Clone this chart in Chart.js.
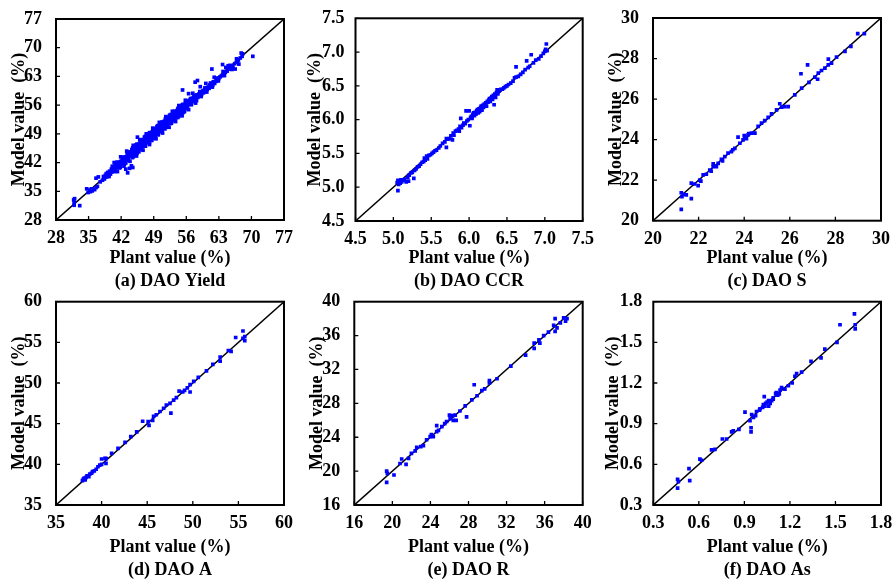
<!DOCTYPE html>
<html><head><meta charset="utf-8">
<script src="https://cdn.jsdelivr.net/npm/chart.js@4.4.1/dist/chart.umd.min.js"></script>
<style>
html,body{margin:0;padding:0;background:#fff;overflow:hidden;width:895px;height:579px;position:relative;}
canvas{position:absolute;}
</style></head><body>
<canvas id="pa"></canvas><canvas id="pb"></canvas><canvas id="pc"></canvas>
<canvas id="pd"></canvas><canvas id="pe"></canvas><canvas id="pf"></canvas>
<script>
// ---------- tick values & labels ----------
const yieldTicks = [28,35,42,49,56,63,70,77];
const yieldLabels = ['28','35','42','49','56','63','70','77'];
const ccrTicks = [4.5,5.0,5.5,6.0,6.5,7.0,7.5];
const ccrLabels = ['4.5','5.0','5.5','6.0','6.5','7.0','7.5'];
const sTicks = [20,22,24,26,28,30];
const sLabels = ['20','22','24','26','28','30'];
const aTicks = [35,40,45,50,55,60];
const aLabels = ['35','40','45','50','55','60'];
const rTicks = [16,20,24,28,32,36,40];
const rLabels = ['16','20','24','28','32','36','40'];
const asTicks = [0.3,0.6,0.9,1.2,1.5,1.8];
const asLabels = ['0.3','0.6','0.9','1.2','1.5','1.8'];

const subtitles = ['(a) DAO Yield','(b) DAO CCR','(c) DAO S','(d) DAO A','(e) DAO R','(f) DAO As'];
const xTitle = 'Plant value (%)';
const yTitle = 'Model value  (%)';

// ---------- data: [plant, model] ----------
const yieldPairs = [
[31.8,32.9],[31.9,32.3],[31.9,31.6],[32.0,33.2],[33.1,31.5],[34.6,35.6],[34.9,34.7],[35.2,35.3],[35.4,34.9],[35.6,35.6],
[35.8,35.1],[36.3,35.4],[36.6,35.9],[36.9,36.2],[36.6,38.2],[37.1,38.5],[37.5,37.3],[38.0,37.7],
[38.4,38.0],[38.6,38.9],[38.9,38.5],[39.1,39.6],[39.3,38.9],[39.5,39.9],[39.7,39.2],[39.9,40.4],[40.0,39.7],[40.2,40.9],
[40.4,40.1],[40.5,40.6],[40.7,41.3],[40.8,40.2],[41.0,40.8],[41.1,41.6],[41.3,41.0],[41.4,42.0],[41.6,41.3],[41.7,40.9],
[41.9,42.3],[42.0,41.6],[42.2,42.6],[42.3,41.9],[42.5,42.1],[42.6,43.0],[42.8,42.4],[42.9,43.4],[43.1,42.7],[43.2,43.1],
[43.4,43.8],[43.5,42.9],[43.7,43.5],[43.8,44.2],[44.0,43.6],[44.1,44.5],
[43.0,40.4],[43.4,39.5],[44.5,40.8],[44.2,41.2],[43.8,40.6],
[44.3,43.9],[44.4,44.8],[44.6,44.2],[44.7,45.3],[44.9,44.6],[45.0,45.5],[45.2,44.8],[45.3,45.9],[45.5,45.1],[45.5,48.2],
[45.6,46.2],[45.8,45.4],[45.9,46.6],[46.1,45.8],[46.2,46.9],[46.4,46.1],[46.5,47.3],[46.7,46.5],[46.8,47.6],[47.0,46.7],
[47.1,47.9],[47.3,47.2],[47.4,48.1],[47.6,47.4],[47.7,48.5],[47.9,47.6],[48.0,48.8],[48.2,48.0],[48.3,49.1],[48.5,48.3],
[48.6,49.4],[48.8,48.7],[48.9,49.7],[49.1,48.9],[49.2,50.0],[49.4,49.2],[49.5,50.3],[49.7,49.5],[49.8,50.6],[50.0,49.8],
[50.1,50.9],[50.3,50.1],[50.4,51.2],[50.6,50.4],[50.7,51.5],[50.9,50.7],[51.0,51.8],[51.2,51.0],[51.3,52.1],[51.5,51.3],
[51.6,52.4],[51.8,51.5],[51.9,52.7],[52.1,51.8],[52.2,53.0],[52.4,52.1],[52.5,53.3],[52.7,52.4],[52.8,53.6],[53.0,52.7],
[53.1,53.8],[53.3,53.0],[53.4,54.1],[53.6,53.2],[53.7,54.4],[53.9,53.5],[54.0,54.7],[54.2,53.8],[54.3,55.0],[54.5,54.1],
[54.6,55.3],[54.8,54.4],[54.9,55.6],[55.1,54.6],[55.2,55.9],[55.4,54.9],[55.5,56.1],[55.7,55.2],[55.8,56.4],
[44.5,45.6],[44.8,43.9],[45.4,46.5],[45.7,44.9],[46.3,47.5],[46.6,45.8],[47.2,48.4],[47.5,46.8],[48.1,49.3],[48.4,47.7],
[49.0,50.2],[49.3,48.6],[49.9,51.0],[50.2,49.5],[50.8,51.9],[51.1,50.4],[51.7,52.8],[52.0,51.2],[52.6,53.7],[52.9,52.0],
[53.5,54.5],[53.8,52.9],[54.4,55.4],[54.7,53.8],[55.3,56.2],[55.6,54.7],
[44.2,44.3],[45.1,45.3],[46.0,46.2],[46.9,47.1],[47.8,48.0],[48.7,48.9],[49.6,49.8],[50.5,50.7],[51.4,51.6],[52.3,52.5],
[53.2,53.4],[54.1,54.3],[55.0,55.2],[45.6,45.7],[46.4,46.6],[47.3,47.6],[48.2,48.5],[49.1,49.4],[50.0,50.3],[50.9,51.2],
[51.8,52.1],[52.7,53.0],[53.6,53.9],[54.5,54.8],
[38.2,38.6],[38.8,39.3],[39.4,38.6],[40.1,41.1],[40.6,39.8],[41.2,42.1],[41.8,40.8],[42.4,43.3],[42.7,41.6],[43.3,44.2],
[43.6,42.5],[44.3,45.2],[44.6,43.4],[45.2,46.3],[45.4,44.2],[46.1,47.2],[46.3,45.2],[47.0,48.2],[47.2,46.1],[47.9,49.0],
[48.1,47.0],[48.8,49.9],[49.0,47.9],[49.7,50.8],[49.9,48.8],[50.6,51.7],[50.8,49.7],[51.5,52.6],[51.7,50.6],[52.4,53.5],
[52.6,51.5],[53.3,54.4],[53.5,52.4],[54.2,55.2],[54.4,53.3],[55.1,56.0],[55.3,54.2],[56.0,56.9],[56.2,55.2],[56.9,57.6],
[57.1,56.1],[57.8,58.4],[58.2,57.1],[58.9,59.3],[59.2,58.1],[60.0,60.2],[60.4,59.2],[61.2,61.4],[61.6,60.4],[62.5,62.6],
[62.9,61.9],[63.9,64.2],[64.2,63.2],[65.4,65.7],[65.8,64.7],
[38.5,38.4],[39.0,38.9],[39.6,39.5],[40.3,40.4],[40.9,40.8],[41.5,41.6],[42.1,42.1],[42.7,42.8],[43.3,43.3],[43.9,44.0],
[44.5,44.4],[45.3,45.4],[45.9,46.0],[46.6,46.6],[47.4,47.3],[48.0,48.2],[48.6,48.6],[49.3,49.4],[50.1,50.0],[50.7,50.8],
[51.3,51.4],[52.0,52.0],[52.6,52.7],[53.4,53.3],[54.0,54.0],[54.6,54.6],[55.2,55.3],[55.9,55.8],[56.5,56.6],[57.1,57.2],
[57.7,57.6],[58.4,58.3],[59.0,58.8],[59.6,59.5],[60.4,60.2],[61.0,60.9],[61.8,61.7],
[40.5,42.0],[41.2,39.8],[41.9,43.4],[42.6,41.1],[43.2,44.8],[43.9,42.3],[44.6,46.2],[45.3,43.6],[46.0,47.6],[46.7,45.0],
[47.4,49.0],[48.1,46.4],[48.8,50.4],[49.5,47.8],[50.2,51.8],[50.9,49.2],[51.6,53.2],[52.3,50.6],[53.0,54.5],[53.7,52.0],
[54.4,55.9],[55.1,53.4],[55.8,57.2],[56.5,54.9],[57.4,58.9],[58.0,56.5],
[41.0,42.0],[41.6,40.7],[42.3,43.2],[43.0,41.9],[43.7,44.6],[44.4,43.2],[45.1,46.0],[45.8,44.6],[46.5,47.4],[47.2,46.0],
[47.9,48.8],[48.6,47.4],[49.3,50.2],[50.0,48.8],[50.7,51.6],[51.4,50.2],[52.1,53.0],[52.8,51.6],[53.5,54.4],[54.2,53.0],
[54.9,55.8],[55.6,54.4],
[56.0,55.6],[56.1,56.6],[56.3,55.9],[56.4,57.0],[56.6,56.2],[56.7,57.2],[56.9,56.5],[57.0,57.4],[57.2,56.8],[57.3,57.7],
[57.5,57.0],[57.6,58.0],[57.8,57.3],[58.0,58.2],[58.1,57.6],[58.3,58.5],[58.5,57.9],[58.7,58.7],[58.9,58.3],[59.1,59.0],
[59.3,58.6],[59.5,59.3],[59.7,59.0],[59.9,59.7],[60.1,59.3],[60.3,60.0],[60.5,59.8],[60.7,60.4],[60.9,60.1],[61.1,60.8],
[61.3,60.5],[61.5,61.2],[61.7,60.9],[61.9,61.5],[62.1,61.3],[62.4,61.8],[62.7,62.1],[63.0,62.5],[63.3,62.9],[63.6,63.2],
[64.0,63.5],[64.4,64.0],[64.8,64.3],[65.2,64.8],[65.6,65.2],[66.0,65.6],[66.4,66.1],[66.8,66.5],[67.2,67.0],[67.6,67.5],[68.0,67.9],
[55.2,59.7],[57.9,61.6],[58.4,62.0],[56.5,58.8],[61.5,64.8],[63.8,65.9],[70.3,67.9],[68.1,68.5],[67.0,66.5],[66.0,65.0],
[66.5,64.8],[67.3,66.0],[65.0,65.6],[59.0,60.5],[60.2,61.3],[62.0,62.8],[64.5,65.2],[66.8,67.3],[67.8,68.7]
];
const ccrPairs = [
[5.05,5.07],[5.06,5.10],[5.07,5.04],[5.08,5.09],[5.09,5.06],[5.10,5.11],[5.06,4.95],[5.11,5.08],[5.13,5.10],[5.15,5.12],
[5.17,5.08],[5.19,5.15],[5.21,5.18],[5.20,5.09],[5.23,5.21],[5.25,5.22],[5.27,5.13],[5.28,5.25],[5.30,5.27],[5.32,5.30],
[5.34,5.31],[5.36,5.34],[5.38,5.37],[5.40,5.38],[5.41,5.43],[5.42,5.40],[5.44,5.46],[5.45,5.42],[5.47,5.47],[5.49,5.48],
[5.51,5.50],[5.53,5.52],[5.55,5.54],[5.57,5.55],[5.60,5.58],[5.62,5.61],[5.65,5.65],[5.68,5.67],[5.70,5.72],[5.70,5.59],
[5.72,5.71],[5.74,5.72],[5.76,5.76],[5.78,5.70],[5.79,5.80],[5.80,5.77],[5.82,5.83],[5.84,5.84],[5.86,5.86],[5.87,5.83],
[5.88,5.90],[5.89,6.02],[5.90,5.88],[5.92,5.92],[5.93,5.95],[5.95,5.94],[5.96,6.13],[5.97,5.98],[5.99,6.00],[6.00,6.13],
[6.01,5.91],[6.02,6.03],[6.03,6.05],[6.04,6.02],[6.05,6.08],[6.06,6.10],[6.07,6.06],[6.08,6.11],[6.09,6.08],[6.10,6.13],
[6.11,6.15],[6.12,6.10],[6.13,6.16],[6.14,6.12],[6.15,6.18],[6.16,6.20],[6.17,6.14],[6.18,6.21],[6.19,6.18],[6.20,6.23],
[6.21,6.22],[6.22,6.25],[6.23,6.20],[6.24,6.27],[6.25,6.26],[6.26,6.29],[6.27,6.31],[6.28,6.27],[6.29,6.32],[6.30,6.34],
[6.31,6.30],[6.32,6.36],[6.33,6.22],[6.34,6.38],[6.35,6.33],[6.36,6.40],[6.37,6.44],[6.38,6.38],[6.39,6.42],[6.40,6.43],
[6.42,6.45],[6.44,6.45],[6.46,6.47],[6.48,6.49],[6.50,6.50],[6.52,6.52],[6.55,6.54],[6.58,6.57],[6.60,6.62],[6.62,6.63],
[6.62,6.78],[6.65,6.64],[6.68,6.67],[6.71,6.70],[6.74,6.74],[6.76,6.87],[6.78,6.77],[6.80,6.79],[6.82,6.96],[6.85,6.84],
[6.88,6.88],[6.92,6.90],[6.95,6.94],[6.98,6.98],[7.00,7.01],[7.01,7.04],[7.02,7.12],[7.03,7.02]
];
const sPairs = [
[21.24,20.56],[21.24,21.38],[21.27,21.19],[21.35,21.30],[21.46,21.27],[21.68,21.09],[21.68,21.85],[21.83,21.81],[21.98,21.73],
[22.05,22.00],[22.10,21.95],[22.20,22.26],[22.34,22.29],[22.49,22.50],[22.55,22.45],[22.64,22.67],[22.64,22.80],[22.78,22.67],
[22.86,22.83],[23.00,23.03],[23.05,22.95],[23.15,23.16],[23.29,23.33],[23.44,23.41],[23.50,23.50],[23.59,23.57],[23.73,24.12],
[23.81,23.82],[23.95,23.99],[24.00,24.20],[24.03,24.15],[24.10,24.05],[24.17,24.23],[24.20,24.30],[24.32,24.32],[24.47,24.32],
[24.61,24.65],[24.76,24.81],[24.90,24.94],[25.05,25.10],[25.20,25.27],[25.42,25.47],[25.56,25.77],[25.64,25.60],[25.78,25.63],
[25.93,25.63],[26.22,26.21],[26.49,27.25],[26.52,26.54],[26.78,27.69],[26.84,26.82],[27.10,27.08],[27.22,26.98],[27.25,27.28],
[27.39,27.41],[27.54,27.53],[27.69,27.97],[27.69,27.69],[27.83,27.77],[28.05,28.07],[28.42,28.35],[28.68,28.60],[28.98,29.23],
[29.27,29.23]
];
const aPairs = [
[37.9,38.0],[38.0,38.2],[38.1,38.3],[38.2,38.1],[38.3,38.4],[38.4,38.6],[38.6,38.5],[38.7,38.8],[38.9,38.9],[39.0,39.1],
[39.2,39.2],[39.4,39.4],[39.6,39.7],[39.8,39.9],[40.0,40.0],[40.0,40.66],[40.37,40.74],[40.48,40.12],[40.5,40.7],
[41.1,41.35],[41.8,41.97],[42.57,42.7],[43.2,43.4],[43.85,44.0],[44.5,45.3],[45.1,45.25],[45.2,44.8],[45.6,45.4],
[45.7,45.9],[46.0,46.1],[46.4,46.5],[46.8,46.9],[47.1,47.3],[47.5,47.5],[47.6,46.3],[47.9,47.9],[48.2,48.2],[48.5,49.0],
[48.9,48.9],[49.1,49.1],[49.4,49.4],[49.7,49.8],[49.7,48.9],[50.1,50.2],[50.6,50.7],[51.5,51.5],[52.2,52.3],[53.0,53.2],
[53.0,52.7],[53.9,54.0],[54.2,53.9],[54.7,55.6],[55.5,56.4],[55.5,55.5],[55.7,55.2],[55.7,55.7]
];
const rPairs = [
[19.4,18.68],[19.4,20.0],[19.47,19.74],[20.17,19.54],[20.8,20.9],[20.98,21.43],[21.44,20.8],[21.7,21.5],[22.0,22.1],
[22.4,22.4],[22.56,22.8],[22.98,22.9],[23.26,23.0],[23.6,23.7],[23.97,24.07],[24.1,24.3],[24.3,24.07],[24.66,24.66],
[24.66,25.37],[24.84,24.8],[25.2,25.25],[25.5,25.6],[25.7,25.86],[26.0,26.6],[26.07,26.2],[26.35,26.55],[26.4,26.0],
[26.6,26.6],[26.7,26.0],[27.1,27.1],[27.65,27.7],[27.8,26.4],[28.35,28.4],[28.6,30.2],[28.9,28.9],[29.4,29.5],[29.7,29.7],
[30.2,30.4],[30.2,30.7],[31.0,30.9],[32.45,32.4],[34.0,33.7],[34.9,35.1],[34.9,34.5],[35.4,35.5],[35.5,35.1],[35.9,36.0],
[36.4,36.4],[36.95,37.2],[37.1,38.0],[37.1,36.5],[37.3,36.9],[37.65,37.5],[38.0,38.1],[38.2,37.7],[38.35,38.0]
];
const asPairs = [
[0.46,0.424],[0.46,0.49],[0.465,0.473],[0.535,0.569],[0.54,0.48],[0.607,0.639],[0.618,0.63],[0.684,0.707],[0.706,0.71],
[0.755,0.787],[0.783,0.787],[0.816,0.84],[0.827,0.847],[0.864,0.858],[0.904,0.985],[0.937,0.922],[0.944,0.87],[0.944,0.84],
[0.948,0.967],[0.96,0.947],[0.974,0.96],[0.98,0.99],[1.0,1.0],[1.003,1.01],[1.02,1.02],[1.025,1.04],[1.031,1.1],[1.035,1.03],
[1.04,1.05],[1.05,1.06],[1.06,1.03],[1.06,1.07],[1.07,1.05],[1.08,1.07],[1.09,1.09],[1.09,1.08],[1.106,1.12],[1.11,1.13],
[1.12,1.11],[1.13,1.12],[1.135,1.147],[1.145,1.167],[1.167,1.155],[1.19,1.18],[1.215,1.2],[1.233,1.25],[1.244,1.27],
[1.277,1.28],[1.339,1.36],[1.405,1.385],[1.43,1.45],[1.51,1.5],[1.53,1.63],[1.625,1.71],[1.63,1.63],[1.63,1.6]
];

// ---------- layout of each panel (page pixels) ----------
const panels = [
  {id:'pa', pairs:yieldPairs, ticks:yieldTicks, labels:yieldLabels, sub:0, box:[0,0,300,295],   plot:[56,284,19,220],      line2:281,   yTitleX:19,  tickPad:6},
  {id:'pb', pairs:ccrPairs,   ticks:ccrTicks,   labels:ccrLabels,   sub:1, box:[290,0,310,295], plot:[355.5,582.7,18.3,221], line2:281, yTitleX:315, tickPad:3},
  {id:'pc', pairs:sPairs,     ticks:sTicks,     labels:sLabels,     sub:2, box:[595,0,300,295], plot:[653,881,18,220.7],   line2:281.5, yTitleX:616, tickPad:6},
  {id:'pd', pairs:aPairs,     ticks:aTicks,     labels:aLabels,     sub:3, box:[0,287,300,300], plot:[56,284,301.7,505],   line2:570,   yTitleX:19.5,tickPad:6},
  {id:'pe', pairs:rPairs,     ticks:rTicks,     labels:rLabels,     sub:4, box:[290,287,310,300], plot:[354.3,582.7,301.7,505], line2:570, yTitleX:317, tickPad:6},
  {id:'pf', pairs:asPairs,    ticks:asTicks,    labels:asLabels,    sub:5, box:[595,287,300,300], plot:[653.3,881,301.7,505], line2:570, yTitleX:613, tickPad:3}
];

Chart.defaults.font.family = "'Liberation Serif','Times New Roman',serif";
Chart.defaults.font.weight = 'bold';
Chart.defaults.color = '#000';

const framePlugin = {
  id: 'frame',
  afterDatasetsDraw(chart) {
    const {ctx, chartArea: a} = chart;
    const x = chart.scales.x, y = chart.scales.y;
    ctx.save();
    ctx.strokeStyle = '#000';
    ctx.lineWidth = 1.3;
    ctx.beginPath();
    x.ticks.forEach(t => { const px = x.getPixelForValue(t.value); ctx.moveTo(px, a.bottom); ctx.lineTo(px, a.bottom - 4); });
    y.ticks.forEach(t => { const py = y.getPixelForValue(t.value); ctx.moveTo(a.left, py); ctx.lineTo(a.left + 4, py); });
    ctx.stroke();
    ctx.lineWidth = 2;
    ctx.strokeRect(a.left, a.top, a.right - a.left, a.bottom - a.top);
    ctx.restore();
  }
};

const FS = 18;
const TITLE_LH = 23;
panels.forEach(p => {
  const [bx, by, bw, bh] = p.box;
  const [L, R, T, B] = p.plot;
  const cv = document.getElementById(p.id);
  cv.width = bw; cv.height = bh;
  cv.style.left = bx + 'px'; cv.style.top = by + 'px';
  const yAxisW = L - bx;
  const xAxisH = (p.line2 + TITLE_LH / 2) - B;
  const padTop = T - by;
  const padRight = bx + bw - R;
  const padBottom = bh - (B - by) - xAxisH;
  const yTitleLH = FS * 1.2;
  const lo = p.ticks[0], hi = p.ticks[p.ticks.length - 1];
  const tickCfg = {
    autoSkip: false, maxRotation: 0, minRotation: 0,
    font: {size: FS, weight: 'bold'},
    callback: (v, i) => p.labels[i]
  };
  new Chart(cv, {
    type: 'scatter',
    data: {
      datasets: [
        {type: 'scatter', data: p.pairs.map(d => ({x: d[0], y: d[1]})),
         pointStyle: 'rect', pointRadius: 2.6, pointBorderWidth: 0,
         backgroundColor: '#0000ff', borderColor: '#0000ff', order: 0},
        {type: 'line', data: [{x: lo, y: lo}, {x: hi, y: hi}],
         borderColor: '#000', borderWidth: 1.5, pointRadius: 0, fill: false, order: 1}
      ]
    },
    options: {
      responsive: false, animation: false, devicePixelRatio: 1,
      layout: {padding: {left: 0, top: padTop, right: padRight, bottom: padBottom}},
      plugins: {legend: {display: false}, tooltip: {enabled: false}},
      scales: {
        x: {
          type: 'linear', min: lo, max: hi,
          grid: {display: false}, border: {display: false},
          ticks: Object.assign({padding: 0}, tickCfg),
          afterBuildTicks: s => { s.ticks = p.ticks.map(v => ({value: v})); },
          afterFit: s => { s.height = xAxisH; s.paddingLeft = 0; s.paddingRight = 0; },
          title: {display: true, text: [xTitle, subtitles[p.sub]],
                  font: {size: FS, weight: 'bold', lineHeight: TITLE_LH / FS},
                  padding: {top: 0, bottom: 0}}
        },
        y: {
          type: 'linear', min: lo, max: hi,
          grid: {display: false}, border: {display: false},
          ticks: Object.assign({padding: p.tickPad}, tickCfg),
          afterBuildTicks: s => { s.ticks = p.ticks.map(v => ({value: v})); },
          afterFit: s => { s.width = yAxisW; s.paddingTop = 0; s.paddingBottom = 0; },
          title: {display: true, text: yTitle,
                  font: {size: FS, weight: 'bold', lineHeight: 1.2},
                  padding: {top: (p.yTitleX - bx) - yTitleLH / 2, bottom: 0}}
        }
      }
    },
    plugins: [framePlugin]
  });
});
</script>
</body></html>
